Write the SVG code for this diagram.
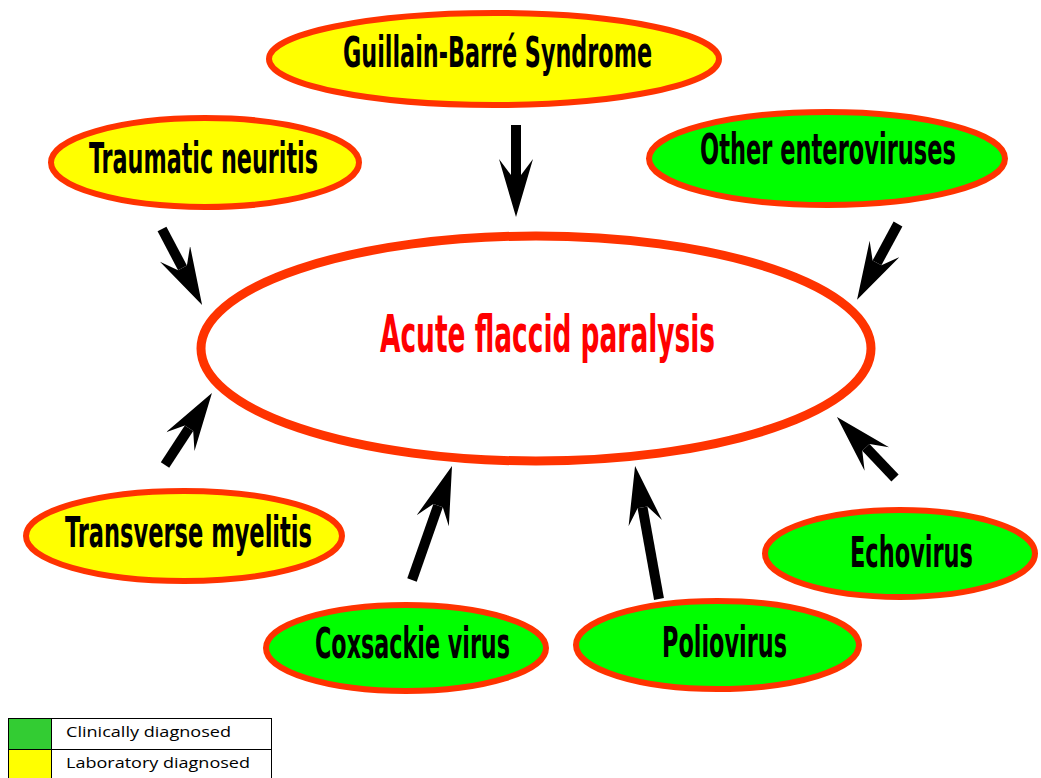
<svg xmlns="http://www.w3.org/2000/svg" width="1041" height="778" viewBox="0 0 1041 778">
<style>
.node{stroke:#ff3300;stroke-width:6}
.yel{fill:#ffff00}
.grn{fill:#00ff00}
.lbl{font-family:"Liberation Sans Narrow","DejaVu Sans Condensed","Liberation Sans",sans-serif;font-weight:bold;font-size:42px;fill:#000}
.main{font-size:52px;fill:#ff0000}
.arr{stroke:#000;stroke-width:10;fill:none;marker-end:url(#head)}
.leg{font-family:"Open Sans","Liberation Sans",sans-serif;font-size:14px;fill:#000}
</style>
<defs>
<marker id="head" markerUnits="userSpaceOnUse" viewBox="0 0 58 34" refX="16" refY="17" markerWidth="58" markerHeight="34" orient="auto">
<path d="M0,0 L58,17 L0,34 L16,22 L16,12 Z" fill="#000"/>
</marker>
</defs>
<rect width="1041" height="778" fill="#fff"/>
<g id="afp">
<ellipse cx="536" cy="348.5" rx="335" ry="112.5" fill="#fff" stroke="#ff3300" stroke-width="9"/>
<text class="lbl main" transform="translate(380,352) scale(0.74,1)" textLength="452.7" lengthAdjust="spacingAndGlyphs">Acute flaccid paralysis</text>
</g>
<g id="connectors">
<line class="arr" x1="516" y1="125" x2="516" y2="175"/>
<line class="arr" x1="162" y1="229" x2="182.5" y2="267.9"/>
<line class="arr" x1="898" y1="224" x2="877" y2="262.9"/>
<line class="arr" x1="165" y1="465" x2="189" y2="428.2"/>
<line class="arr" x1="412" y1="580" x2="438.1" y2="505.6"/>
<line class="arr" x1="659" y1="599" x2="642.5" y2="507.4"/>
<line class="arr" x1="895" y1="478" x2="865.9" y2="447.4"/>
</g>
<g id="gbs">
<ellipse class="node yel" cx="494" cy="59" rx="225" ry="46"/>
<text class="lbl" transform="translate(343,67) scale(0.74,1)" textLength="417.6" lengthAdjust="spacingAndGlyphs">Guillain-Barré Syndrome</text>
</g>
<g id="traumatic">
<ellipse class="node yel" cx="205" cy="162.5" rx="154" ry="44.5"/>
<text class="lbl" transform="translate(89,173) scale(0.74,1)" textLength="309.5" lengthAdjust="spacingAndGlyphs">Traumatic neuritis</text>
</g>
<g id="other">
<ellipse class="node grn" cx="827" cy="158.5" rx="178" ry="46.5"/>
<text class="lbl" transform="translate(700,164) scale(0.74,1)" textLength="345.9" lengthAdjust="spacingAndGlyphs">Other enteroviruses</text>
</g>
<g id="transverse">
<ellipse class="node yel" cx="184" cy="536" rx="158" ry="45"/>
<text class="lbl" transform="translate(65,547) scale(0.74,1)" textLength="333.8" lengthAdjust="spacingAndGlyphs">Transverse myelitis</text>
</g>
<g id="coxsackie">
<ellipse class="node grn" cx="406" cy="648" rx="140" ry="43"/>
<text class="lbl" transform="translate(315,658) scale(0.74,1)" textLength="263.5" lengthAdjust="spacingAndGlyphs">Coxsackie virus</text>
</g>
<g id="polio">
<ellipse class="node grn" cx="717.5" cy="645" rx="141.5" ry="44"/>
<text class="lbl" transform="translate(662,657) scale(0.74,1)" textLength="168.9" lengthAdjust="spacingAndGlyphs">Poliovirus</text>
</g>
<g id="echo">
<ellipse class="node grn" cx="900" cy="553.5" rx="135" ry="43.5"/>
<text class="lbl" transform="translate(850,567) scale(0.74,1)" textLength="166.2" lengthAdjust="spacingAndGlyphs">Echovirus</text>
</g>
<g id="legend">
<rect x="8.5" y="718.5" width="43" height="31" fill="#33cc33"/>
<rect x="8.5" y="749.5" width="43" height="31" fill="#ffff00"/>
<rect x="8.5" y="718.5" width="263" height="62" fill="none" stroke="#000" stroke-width="1"/>
<line x1="8.5" y1="749.5" x2="271.5" y2="749.5" stroke="#000" stroke-width="1"/>
<line x1="51.5" y1="718.5" x2="51.5" y2="780" stroke="#000" stroke-width="1"/>
<text class="leg" x="66" y="737" textLength="165" lengthAdjust="spacingAndGlyphs">Clinically diagnosed</text>
<text class="leg" x="66" y="768" textLength="184" lengthAdjust="spacingAndGlyphs">Laboratory diagnosed</text>
</g>
</svg>
